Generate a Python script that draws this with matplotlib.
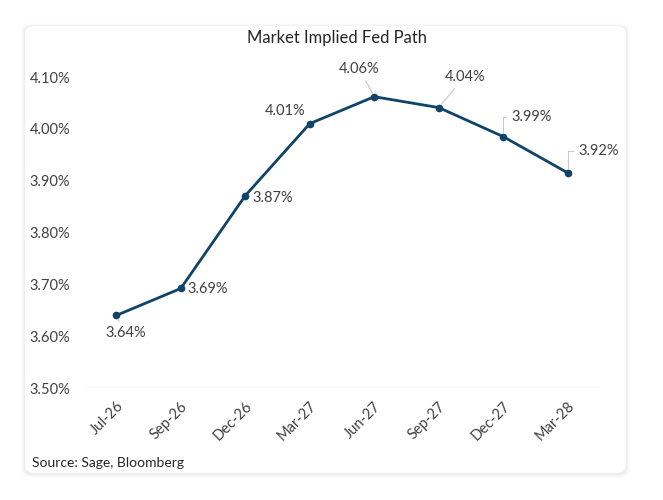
import matplotlib as mpl
mpl.use('agg')
import matplotlib.pyplot as plt
from matplotlib.patches import FancyBboxPatch

plt.rcParams['font.family'] = ['Lato', 'DejaVu Sans']

dates = ['Jul-26', 'Sep-26', 'Dec-26', 'Mar-27', 'Jun-27', 'Sep-27', 'Dec-27', 'Mar-28']
rates = [3.64, 3.692, 3.871, 4.01, 4.062, 4.041, 3.985, 3.915]
labels = ['3.64%', '3.69%', '3.87%', '4.01%', '4.06%', '4.04%', '3.99%', '3.92%']
yticks = [3.5, 3.6, 3.7, 3.8, 3.9, 4.0, 4.1]

# label offsets in pixels (dx, dy, ha, leader style)
offs = [(9, -18, 'center', 'arc3'), (7, -1, 'left', None), (7, -2, 'left', None),
        (-25, 13, 'center', 'arc3'), (-15, 28, 'center', 'arc3'), (26, 31, 'center', 'arc3'),
        (8, 20, 'left', 'angle,angleA=0,angleB=90,rad=0'),
        (11, 22, 'left', 'angle,angleA=0,angleB=90,rad=0')]

fig = plt.figure(figsize=(6.63, 5), dpi=100)
fig.patch.set_facecolor('white')

# card with soft shadow
for i, a in enumerate([0.012, 0.016, 0.02, 0.025]):
    g = 4 - i
    sh = FancyBboxPatch((25 / 663 - g / 663, 27 / 500 - (g + 1) / 500),
                        601 / 663 + 2 * g / 663, 447 / 500 + 2 * g / 500,
                        boxstyle='round,pad=0,rounding_size=0.015',
                        transform=fig.transFigure, fc='black', ec='none', alpha=a, zorder=-2)
    fig.patches.append(sh)
card = FancyBboxPatch((25 / 663, 27 / 500), 601 / 663, 447 / 500,
                      boxstyle='round,pad=0,rounding_size=0.015',
                      transform=fig.transFigure, fc='white', ec='none', zorder=-1)
fig.patches.append(card)

ax = fig.add_axes([84 / 663, 112 / 500, 516 / 663, 311 / 500])
ax.set_zorder(2)
ax.set_facecolor('none')
x = list(range(len(dates)))
ax.plot(x, rates, color='#0f4468', lw=2, marker='o', ms=4.5, zorder=3)

for xi, yi, lab, (dx, dy, ha, cs) in zip(x, rates, labels, offs):
    if cs is None:
        ax.annotate(lab, (xi, yi), xytext=(dx, dy), textcoords='offset pixels',
                    ha=ha, va='center', fontsize=10.5, color='#404040')
    else:
        ax.annotate(lab, (xi, yi), xytext=(dx, dy), textcoords='offset pixels',
                    ha=ha, va='center', fontsize=10.5, color='#404040',
                    arrowprops=dict(arrowstyle='-', color='#c8c8c8', lw=0.8,
                                    shrinkA=2, shrinkB=3, connectionstyle=cs))

ax.set_xlim(-0.5, len(dates) - 0.5)
ax.set_ylim(3.5, 4.1)
ax.set_yticks(yticks)
ax.set_yticklabels(['%.2f%%' % v for v in yticks])
ax.set_xticks(x)
ax.set_xticklabels(dates, rotation=45, ha='right', rotation_mode='anchor')
ax.tick_params(length=0, labelsize=10.5, labelcolor='#404040')
ax.tick_params(axis='y', pad=10)
ax.tick_params(axis='x', pad=8)
for s in ax.spines.values():
    s.set_visible(False)
ax.axhline(3.5, color='#e6e6e6', lw=1, zorder=1)

fig.text(337 / 663, 462 / 500, 'Market Implied Fed Path', ha='center', va='center',
         fontsize=12, color='#262626')
fig.text(32 / 663, 37 / 500, 'Source: Sage, Bloomberg', ha='left', va='center',
         fontsize=10, color='#262626')

fig.savefig('out.png', dpi=100)
